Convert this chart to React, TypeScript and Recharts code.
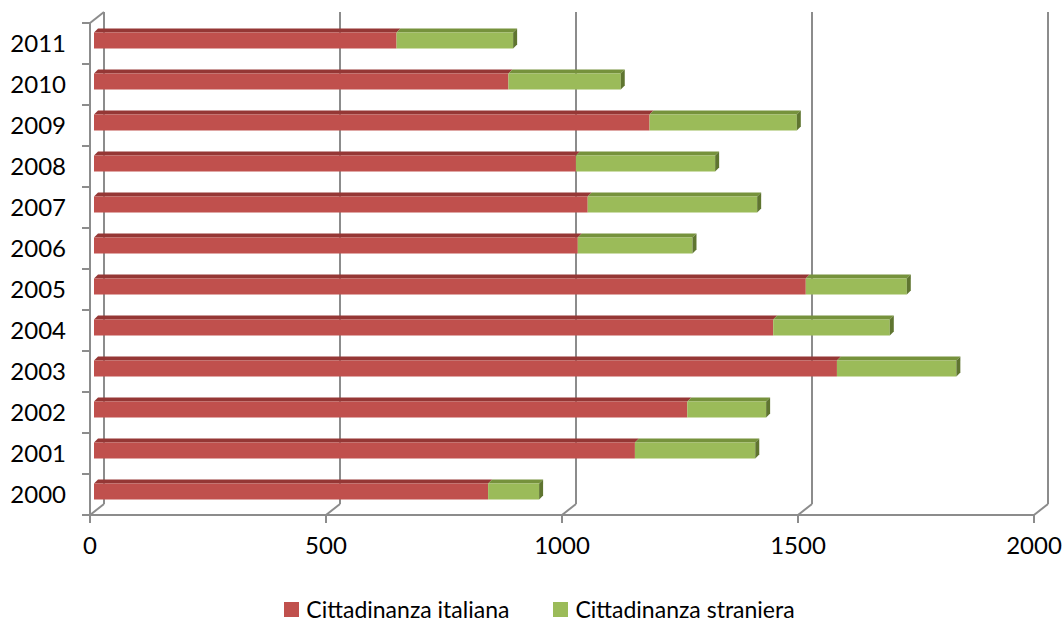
import { BarChart, Bar, XAxis, YAxis, CartesianGrid, Legend } from "recharts";

// Number of births by citizenship, 2000–2011
const years = ["2000", "2001", "2002", "2003", "2004", "2005", "2006", "2007", "2008", "2009", "2010", "2011"];
const italiana = [835, 1146, 1257, 1574, 1439, 1508, 1025, 1046, 1021, 1177, 878, 641];
const straniera = [108, 255, 167, 253, 247, 214, 243, 359, 295, 312, 238, 247];
const xTicks = [0, 500, 1000, 1500, 2000];

const data = years.map((year, i) => ({
  year,
  italiana: italiana[i],
  straniera: straniera[i],
}));

const W = 1063;
const H = 621;
const MARGIN = { top: 23, right: 29, bottom: 0, left: 0 };
const X_AXIS_H = 60;
const LEGEND_H = 46;
const PLOT_H = H - MARGIN.top - X_AXIS_H - LEGEND_H;
const BAND = PLOT_H / years.length;

const GRID = "#8c8c8c";
const FONT = "Lato, 'Open Sans', sans-serif";

// pseudo-3D depth
const WALL_DX = 14;
const WALL_DY = 11;
const BAR_DX = 4;
const BAR_DY = 4;

function Bar3D(props: any) {
  const { x, y, width, height, fill, top, side, withSide } = props;
  if (!width || width <= 0) return null;
  const fx = x + 4;
  const fy = y - 3.5;
  return (
    <g>
      <polygon
        points={`${fx},${fy} ${fx + width},${fy} ${fx + width + BAR_DX},${fy - BAR_DY} ${fx + BAR_DX},${fy - BAR_DY}`}
        fill={top}
      />
      <rect x={fx} y={fy} width={width} height={height} fill={fill} />
      {withSide && (
        <polygon
          points={`${fx + width},${fy} ${fx + width + BAR_DX},${fy - BAR_DY} ${fx + width + BAR_DX},${fy + height - BAR_DY} ${fx + width},${fy + height}`}
          fill={side}
        />
      )}
    </g>
  );
}

function GridLine(props: any) {
  const { x1, y1, y2, index } = props;
  return (
    <g key={`g-${index}`}>
      <line x1={x1 + WALL_DX} y1={y1 - WALL_DY} x2={x1 + WALL_DX} y2={y2 - WALL_DY} stroke={GRID} strokeWidth={2} />
      <line x1={x1} y1={y2} x2={x1 + WALL_DX} y2={y2 - WALL_DY} stroke={GRID} strokeWidth={2} />
      {index === 0 && (
        <line x1={x1} y1={y1} x2={x1 + WALL_DX} y2={y1 - WALL_DY} stroke={GRID} strokeWidth={2} />
      )}
    </g>
  );
}

function YearTick(props: any) {
  const { x, y, payload, index } = props;
  return (
    <g>
      <text x={x} y={y} dy="0.36em" textAnchor="end" fontFamily={FONT} fontSize={24} fill="#000">
        {payload.value}
      </text>
      <line x1={x + 16} y1={y - BAND / 2} x2={x + 24} y2={y - BAND / 2} stroke={GRID} strokeWidth={2} />
      {index === 0 && (
        <line x1={x + 16} y1={y + BAND / 2} x2={x + 24} y2={y + BAND / 2} stroke={GRID} strokeWidth={2} />
      )}
    </g>
  );
}

function LegendContent() {
  const items = [
    { label: "Cittadinanza italiana", color: "#C0504D" },
    { label: "Cittadinanza straniera", color: "#9BBB59" },
  ];
  return (
    <div
      style={{
        height: LEGEND_H,
        boxSizing: "border-box",
        paddingTop: 23,
        display: "flex",
        justifyContent: "center",
        gap: 44,
        fontFamily: FONT,
        fontSize: 23,
        lineHeight: "22px",
        color: "#000",
        paddingLeft: 45,
      }}
    >
      {items.map((it) => (
        <div key={it.label} style={{ display: "flex", alignItems: "center", gap: 7, height: 22 }}>
          <span style={{ width: 15, height: 15, background: it.color, display: "inline-block" }} />
          <span style={{ display: "inline-block", height: 22, lineHeight: "22px" }}>{it.label}</span>
        </div>
      ))}
    </div>
  );
}

export default function App() {
  return (
    <div style={{ position: "absolute", left: 0, top: 0, width: W, height: H, background: "#fff" }}>
      <BarChart width={W} height={H} data={data} layout="vertical" margin={MARGIN} barSize={16}>
        <CartesianGrid horizontal={false} vertical={GridLine} />
        <XAxis
          type="number"
          domain={[0, 2000]}
          ticks={xTicks}
          interval={0}
          height={X_AXIS_H}
          tickSize={8}
          tickMargin={14}
          axisLine={{ stroke: GRID, strokeWidth: 2 }}
          tickLine={{ stroke: GRID, strokeWidth: 2 }}
          tick={{ fontFamily: FONT, fontSize: 24, fill: "#000" }}
        />
        <YAxis
          type="category"
          dataKey="year"
          reversed
          width={90}
          tickSize={8}
          tickMargin={16}
          interval={0}
          axisLine={{ stroke: GRID, strokeWidth: 2 }}
          tickLine={false}
          tick={YearTick}
        />
        <Legend verticalAlign="bottom" content={LegendContent} />
        <Bar
          dataKey="italiana"
          name="Cittadinanza italiana"
          stackId="a"
          fill="#C0504D"
          isAnimationActive={false}
          shape={(p: any) => <Bar3D {...p} fill="#C0504D" top="#953735" side="#953735" withSide={false} />}
        />
        <Bar
          dataKey="straniera"
          name="Cittadinanza straniera"
          stackId="a"
          fill="#9BBB59"
          isAnimationActive={false}
          shape={(p: any) => <Bar3D {...p} fill="#9BBB59" top="#76923C" side="#5F7530" withSide />}
        />
      </BarChart>
    </div>
  );
}
